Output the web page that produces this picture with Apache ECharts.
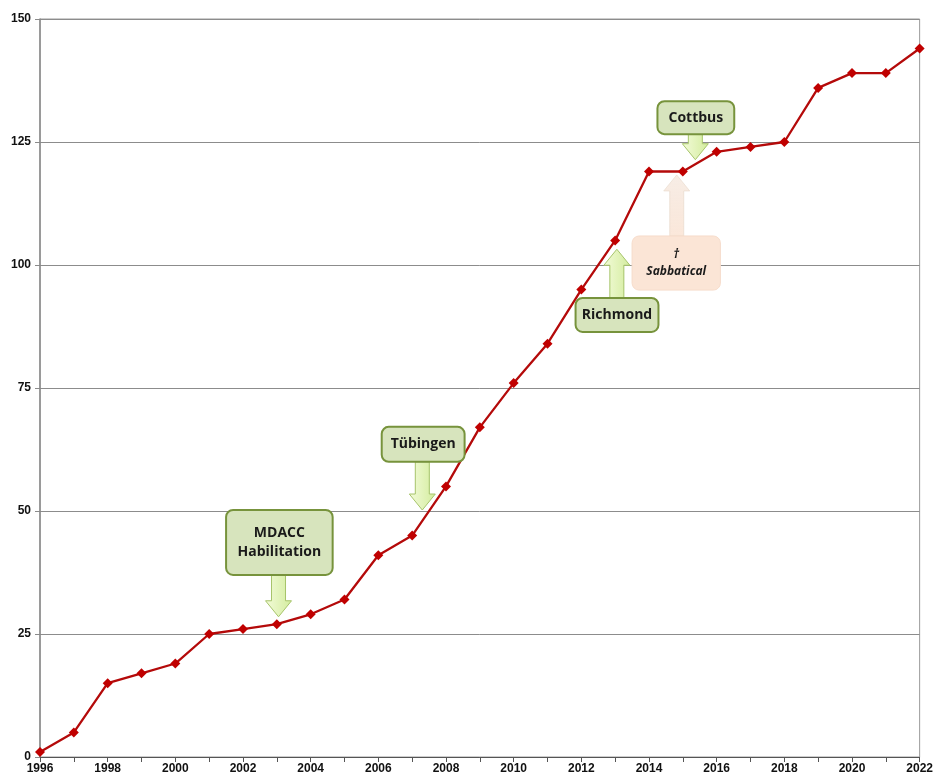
<!DOCTYPE html>
<html>
<head>
<meta charset="utf-8">
<script src="https://cdn.jsdelivr.net/npm/echarts@6/dist/echarts.min.js"></script>
<style>
  html, body { margin: 0; padding: 0; background: #fff; }
  #chart { width: 936px; height: 776px; }
</style>
</head>
<body>
<div id="chart"></div>
<script>
// data
const years = [1996, 1997, 1998, 1999, 2000, 2001, 2002, 2003, 2004, 2005, 2006, 2007, 2008, 2009,
  2010, 2011, 2012, 2013, 2014, 2015, 2016, 2017, 2018, 2019, 2020, 2021, 2022];
const counts = [1, 5, 15, 17, 19, 25, 26, 27, 29, 32, 41, 45, 55, 67,
  76, 84, 95, 105, 119, 119, 123, 124, 125, 136, 139, 139, 144];
const yTicks = [0, 25, 50, 75, 100, 125, 150];

// annotations: box corners [x1, yTop, x2, yBottom] in data units, arrow x and tip y
const noteText = ['MDACC\nHabilitation', 'Tübingen', 'Richmond', 'Cottbus', 'Sabbatical'];
const noteBox = [
  [2001.5, 50.2, 2004.65, 37.0],
  [2006.1, 67.1, 2008.55, 60.0],
  [2011.83, 93.3, 2014.28, 86.4],
  [2014.25, 133.3, 2016.52, 126.6],
  [2013.5, 105.9, 2016.11, 94.9]
];
const noteArrowX = [2003.05, 2007.3, 2013.05, 2015.37, 2014.82];
const noteTipY = [28.5, 50.2, 103.2, 121.4, 118.3];

const chart = echarts.init(document.getElementById('chart'));

const option = {
  animation: false,
  grid: { left: 40, right: 13, top: 19, bottom: 19, show: true, borderColor: '#9a9a9a', borderWidth: 1 },
  xAxis: {
    type: 'value',
    min: 1996, max: 2022, interval: 1,
    axisLine: { show: true, lineStyle: { color: '#555', width: 1 } },
    axisTick: { show: true, length: 5, lineStyle: { color: '#555' } },
    axisLabel: {
      margin: 6,
      color: '#111', fontWeight: 'bold', fontSize: 12, fontFamily: 'Liberation Sans, Arial',
      formatter: v => (v % 2 === 0 ? String(v) : '')
    },
    splitLine: { show: false }
  },
  yAxis: {
    type: 'value',
    min: 0, max: 150, interval: 25,
    axisLine: { show: true, lineStyle: { color: '#8a8a8a', width: 1.5 } },
    axisTick: { show: true, length: 5, lineStyle: { color: '#8a8a8a' } },
    axisLabel: {
      margin: 9,
      color: '#111', fontWeight: 'bold', fontSize: 12, fontFamily: 'Liberation Sans, Arial',
      formatter: v => (yTicks.includes(v) ? String(v) : '')
    },
    splitLine: { show: true, lineStyle: { color: '#8c8c8c', width: 1 } }
  },
  series: [{
    type: 'line',
    data: years.map((y, i) => [y, counts[i]]),
    symbol: 'diamond',
    symbolSize: 10,
    lineStyle: { color: '#b40a0a', width: 2.3 },
    itemStyle: { color: '#c00000' },
    z: 3
  }]
};
chart.setOption(option);

// build annotation boxes + arrows from data coords
function arrowPoints(x, y0, y1) {
  const dir = y1 > y0 ? 1 : -1;
  const hy = y1 - dir * 16;
  return [[x - 7, y0], [x + 7, y0], [x + 7, hy], [x + 13, hy], [x, y1], [x - 13, hy], [x - 7, hy]];
}

const graphics = [];
noteText.forEach((t, i) => {
  const b = noteBox[i];
  const p1 = chart.convertToPixel({ gridIndex: 0 }, [b[0], b[1]]);
  const p2 = chart.convertToPixel({ gridIndex: 0 }, [b[2], b[3]]);
  const ax = chart.convertToPixel({ gridIndex: 0 }, [noteArrowX[i], noteTipY[i]]);
  const sabb = t === 'Sabbatical';
  const tipY = ax[1];
  const down = tipY > p2[1];
  const y0 = down ? p2[1] : p1[1];
  graphics.push({
    type: 'polygon',
    shape: { points: arrowPoints(ax[0], y0, tipY) },
    style: sabb ? {
      fill: new echarts.graphic.LinearGradient(0, 0, 0, 1, [
        { offset: 0, color: 'rgba(240,220,205,0.5)' }, { offset: 1, color: 'rgba(251,229,214,0.9)' }]),
      stroke: 'rgba(230,215,200,0.6)', lineWidth: 1
    } : {
      fill: new echarts.graphic.LinearGradient(0, 0, 1, 0, [
        { offset: 0, color: '#f3fbd9' }, { offset: 1, color: '#d3ec9e' }]),
      stroke: '#a6c46a', lineWidth: 1
    },
    z: 10
  });
  graphics.push({
    type: 'rect',
    shape: { x: p1[0], y: p1[1], width: p2[0] - p1[0], height: p2[1] - p1[1], r: 7 },
    style: sabb ? { fill: '#fbe5d6', stroke: '#f6dccb', lineWidth: 1 }
                : { fill: '#d7e4bd', stroke: '#77933c', lineWidth: 2 },
    z: 11
  });
  graphics.push({
    type: 'text',
    x: (p1[0] + p2[0]) / 2,
    y: (p1[1] + p2[1]) / 2,
    style: {
      text: sabb ? '†\nSabbatical' : t,
      fill: '#1a1a1a',
      font: sabb ? 'italic bold 12px "Open Sans", sans-serif' : 'bold 14px "Open Sans", sans-serif',
      align: 'center', verticalAlign: 'middle',
      lineHeight: sabb ? 17 : 19
    },
    z: 12
  });
});
chart.setOption({ graphic: graphics });
</script>
</body>
</html>
